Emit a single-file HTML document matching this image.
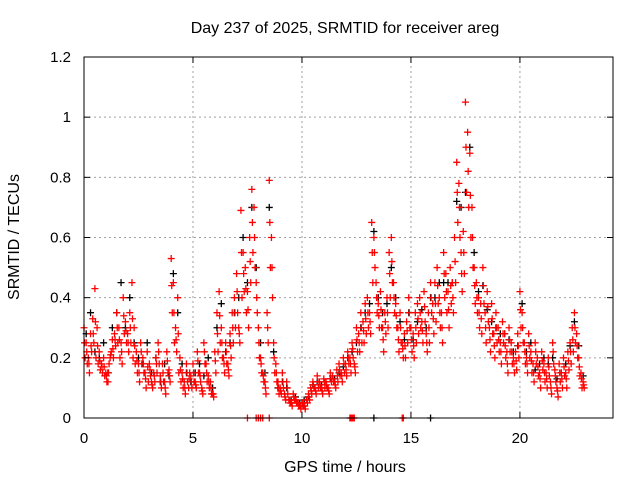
<!DOCTYPE html>
<html><head><meta charset="utf-8"><style>
html,body{margin:0;padding:0;background:#fff;width:640px;height:480px;overflow:hidden}
text{font-family:"Liberation Sans",sans-serif;font-size:15px;fill:#000}
.t{font-size:16px}
</style></head><body>
<svg id="chart" width="640" height="480" xmlns="http://www.w3.org/2000/svg">
<text class="t" x="345" y="33" text-anchor="middle">Day 237 of 2025, SRMTID for receiver areg</text>
<text class="t" x="345" y="472" text-anchor="middle">GPS time / hours</text>
<text class="t" x="19" y="237" text-anchor="middle" transform="rotate(-90 19 237)">SRMTID / TECUs</text>
<g id="grid"></g><g id="marks"></g><g id="axes"></g>
</svg>
<script>
const xTicks=[0,5,10,15,20];
const yTicks=[0,0.2,0.4,0.6,0.8,1,1.2];
const yTickLabels=["0","0.2","0.4","0.6","0.8","1","1.2"];
const redA=[.30,.25,.20,.28,.33,.43,.30,.22,.18,.20,
.15,.12,.20,.26,.28,.35,.30,.25,.40,.32,
.28,.35,.45,.30,.22,.18,.25,.20,.15,.22,
.18,.12,.15,.20,.25,.14,.18,.12,.22,.16,
.53,.45,.30,.40,.20,.15,.12,.18,.10,.14,
.18,.12,.22,.15,.10,.25,.18,.14,.12,.08,
.22,.35,.42,.30,.20,.25,.18,.28,.35,.40,
.48,.30,.69,.55,.50,.42,.60,.76,.70,.45,
.30,.20,.15,.12,.35,.79,.60,.25,.18,.12,
.10,.15,.08,.12,.06,.05,.08,.06,.05,.04,
.05,.04,.06,.08,.10,.12,.10,.14,.12,.10,
.13,.12,.10,.15,.14,.12,.16,.18,.15,.20,
.18,.22,.20,.25,.18,.30,.28,.35,.32,.38,
.40,.35,.65,.60,.45,.38,.42,.30,.35,.40,
.55,.60,.45,.38,.30,.35,.25,.28,.32,.40,
.30,.28,.35,.38,.40,.32,.42,.28,.35,.45,
.38,.45,.50,.40,.35,.55,.48,.42,.50,.45,
.60,.85,.78,.55,.62,1.05,.95,.88,.70,.50,
.45,.40,.38,.50,.35,.42,.30,.38,.28,.35,
.30,.25,.32,.28,.22,.30,.25,.20,.22,.28,
.42,.35,.25,.20,.28,.22,.18,.25,.20,.15,
.22,.18,.15,.20,.12,.25,.16,.10,.18,.15,
.20,.15,.22,.25,.30,.35,.28,.20,.15,.12];
const redB=[.20,.18,.15,.22,.25,.20,.18,.16,.15,.14,
.12,.18,.22,.20,.24,.25,.20,.18,.28,.25,
.22,.25,.20,.18,.15,.12,.18,.15,.10,.12,
.14,.10,.12,.15,.18,.10,.12,.08,.15,.12,
.35,.25,.22,.15,.12,.10,.08,.12,.15,.10,
.12,.10,.15,.12,.08,.18,.12,.10,.08,.07,
.15,.22,.25,.20,.15,.18,.14,.20,.25,.30,
.35,.25,.40,.42,.35,.30,.45,.55,.50,.35,
.20,.15,.12,.08,.25,.50,.40,.15,.12,.08,
.08,.10,.06,.08,.05,.04,.06,.05,.04,.03,
.04,.03,.05,.06,.08,.10,.08,.10,.10,.08,
.10,.10,.08,.12,.12,.10,.12,.14,.12,.15,
.14,.18,.15,.20,.15,.22,.22,.25,.25,.28,
.30,.28,.45,.50,.35,.30,.30,.22,.28,.30,
.40,.45,.35,.30,.22,.25,.20,.20,.25,.30,
.22,.20,.25,.28,.30,.25,.32,.22,.25,.35,
.28,.32,.38,.30,.25,.40,.35,.30,.38,.35,
.45,.65,.60,.42,.48,.75,.70,.60,.50,.38,
.35,.30,.28,.38,.25,.32,.22,.28,.20,.25,
.22,.18,.25,.20,.15,.22,.18,.15,.16,.20,
.30,.25,.18,.15,.20,.15,.12,.18,.14,.10,
.16,.12,.10,.14,.08,.18,.12,.07,.12,.10,
.14,.10,.16,.18,.22,.25,.20,.14,.10,.10];
const redC=[.25,.22,.18,.24,.28,.32,.24,.19,.17,.17,
.14,.15,.21,.23,.26,.30,.26,.22,.34,.29,
.25,.30,.33,.24,.19,.15,.22,.18,.13,.17,
.16,.11,.14,.18,.22,.12,.15,.10,.19,.14,
.44,.35,.26,.28,.16,.13,.10,.15,.13,.12,
.15,.11,.19,.14,.09,.22,.15,.12,.10,.08,
.19,.28,.34,.25,.18,.22,.16,.24,.30,.35,
.42,.28,.55,.48,.43,.36,.52,.65,.60,.40,
.25,.18,.14,.10,.30,.65,.50,.20,.15,.10,
.09,.12,.07,.10,.06,.05,.07,.06,.05,.04,
.05,.04,.06,.07,.09,.11,.09,.12,.11,.09,
.12,.11,.09,.13,.13,.11,.14,.16,.14,.18,
.16,.20,.18,.23,.17,.26,.25,.30,.29,.33,
.35,.32,.55,.55,.40,.34,.36,.26,.32,.35,
.48,.52,.40,.34,.26,.30,.23,.24,.29,.35,
.26,.24,.30,.33,.35,.29,.37,.25,.30,.40,
.33,.38,.44,.35,.30,.48,.42,.36,.44,.40,
.52,.75,.70,.48,.55,.90,.82,.74,.60,.44,
.40,.35,.33,.44,.30,.37,.26,.33,.24,.30,
.26,.22,.28,.24,.18,.26,.22,.18,.19,.24,
.36,.30,.22,.18,.24,.19,.15,.22,.17,.13,
.19,.15,.13,.17,.10,.22,.14,.09,.15,.13,
.17,.13,.19,.22,.26,.30,.24,.17,.13,.11];
const blackVals=[.28,.35,.22,.20,.25,.15,.30,.35,.45,.30,.40,.25,.20,.18,.25,.15,.20,.12,.18,.14,
.48,.35,.18,.15,.12,.15,.18,.14,.20,.10,.30,.38,.22,.25,.35,.40,.60,.45,.70,.50,
.25,.15,.70,.22,.10,.12,.10,.06,.07,.05,.06,.07,.11,.12,.11,.12,.13,.13,.15,.17,
.20,.22,.25,.30,.35,.38,.62,.40,.35,.38,.50,.40,.32,.26,.35,.26,.32,.36,.30,.40,
.40,.45,.45,.45,.45,.72,.70,.75,.90,.55,.42,.44,.36,.32,.30,.28,.28,.26,.22,.24,
.38,.22,.25,.16,.18,.20,.18,.20,.13,.15,.18,.24,.32,.24,.14];
const redZeroTimes=[7.5,7.9,8.0,8.1,8.2,8.5,12.2,12.25,12.3,12.35,12.4,14.6,14.65];
const blackZeroTimes=[13.3,15.9];

const X0=84,X1=613,Y0=418,Y1=57;
const xs=t=>X0+t*(X1-X0)/24.27;
const ys=v=>Y0-v*(Y0-Y1)/1.2;
const NS="http://www.w3.org/2000/svg";
function mk(tag,attrs,parent){const e=document.createElementNS(NS,tag);for(const k in attrs)e.setAttribute(k,attrs[k]);parent.appendChild(e);return e;}
const grid=document.getElementById('grid'),marks=document.getElementById('marks'),axes=document.getElementById('axes');
xTicks.forEach(t=>{
  const x=xs(t);
  if(t>0){const g=mk('line',{x1:x,x2:x,y1:Y0,y2:Y1,stroke:'#a0a0a0','stroke-dasharray':'2,3'},grid);
  
  }
  mk('line',{x1:x,x2:x,y1:Y0,y2:Y0-6,stroke:'#000'},axes);
  mk('line',{x1:x,x2:x,y1:Y1,y2:Y1+6,stroke:'#000'},axes);
  const l=mk('text',{x:x,y:Y0+25,'text-anchor':'middle'},axes);l.textContent=String(t);
  
  
});
yTicks.forEach((v,i)=>{
  const y=ys(v);
  if(v>0&&v<1.2){const g=mk('line',{x1:X0,x2:X1,y1:y,y2:y,stroke:'#a0a0a0','stroke-dasharray':'2,3'},grid);
  
  }
  mk('line',{x1:X0,x2:X0+6,y1:y,y2:y,stroke:'#000'},axes);
  mk('line',{x1:X1,x2:X1-6,y1:y,y2:y,stroke:'#000'},axes);
  const l=mk('text',{x:71,y:y+5,'text-anchor':'end'},axes);l.textContent=yTickLabels[i];
  
  
});
const frame=mk('rect',{x:X0,y:Y1,width:X1-X0,height:Y0-Y1,fill:'none',stroke:'#000'},axes);


function plus(t,v,col,name){
  const x=xs(t),y=ys(v);
  const p=mk('path',{d:`M${x-3.5},${y}h7M${x},${y-3.5}v7`,stroke:col,'stroke-width':1.3,fill:'none'},marks);
  
  
}
blackVals.forEach((v,i)=>plus(0.1+i*0.2,v,'#000','black-point'));
blackZeroTimes.forEach(t=>plus(t,0,'#000','black-zero-point'));
redA.forEach((v,i)=>plus(i*0.1,v,'#ff0000','red-point'));
redB.forEach((v,i)=>plus(i*0.1+0.05,v,'#ff0000','red-point'));
redC.forEach((v,i)=>plus(i*0.1+0.025,v,'#ff0000','red-point'));
redZeroTimes.forEach(t=>plus(t,0,'#ff0000','red-zero-point'));
</script>
</body></html>
